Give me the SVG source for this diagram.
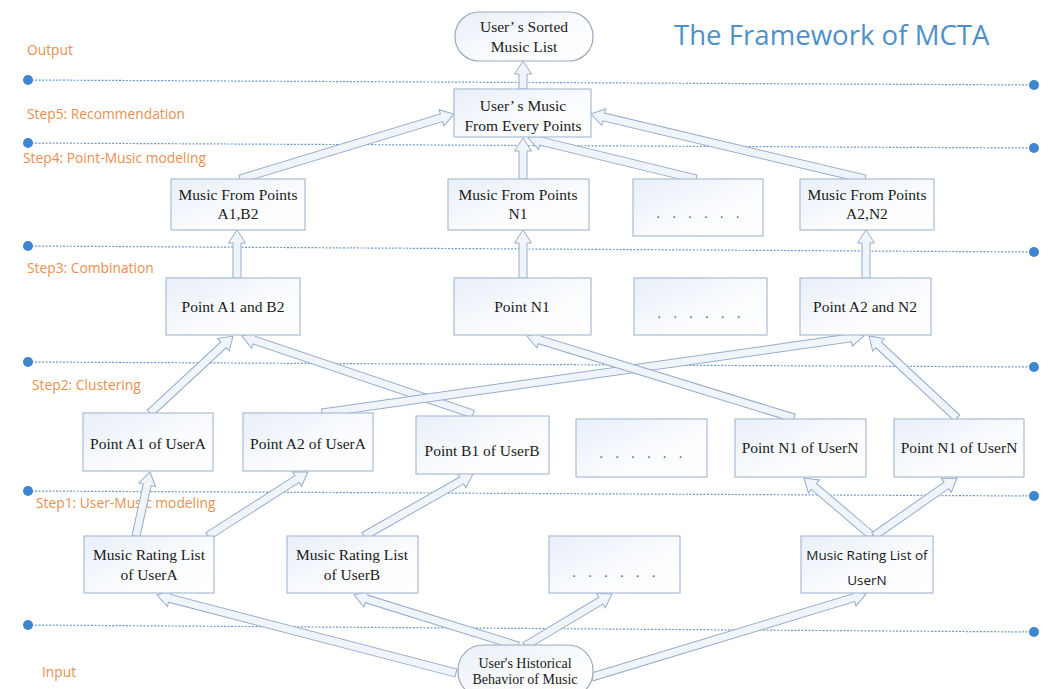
<svg xmlns="http://www.w3.org/2000/svg" width="1057" height="689" viewBox="0 0 1057 689">
<defs>
<linearGradient id="bg" x1="0" y1="0" x2="1" y2="1">
<stop offset="0" stop-color="#e8eff8"/>
<stop offset="0.6" stop-color="#fbfcfe"/>
<stop offset="1" stop-color="#ffffff"/>
</linearGradient>
</defs>
<style>
.sep{stroke:#6f9bcf;stroke-width:1.2;stroke-dasharray:2 1.5;fill:none}
.dot{fill:#3f86d0}
.step{font-family:"Open Sans","Liberation Sans",sans-serif;font-size:13.8px;fill:#e8904f}
.title{font-family:"Open Sans","Liberation Sans",sans-serif;font-size:27.6px;fill:#4f8fca}
.box{fill:url(#bg);stroke:#a9bdd5;stroke-width:1.2}
.stad{fill:url(#bg);stroke:#9aa9bb;stroke-width:1.2}
.t{font-family:"Liberation Serif","Times New Roman",serif;font-size:15.5px;fill:#1a1a1a;text-anchor:middle}
.ts{font-family:"Open Sans","Liberation Sans",sans-serif;font-size:13.5px;fill:#1a1a1a;text-anchor:middle}
.tb{font-family:"Liberation Serif","Times New Roman",serif;font-size:14px;fill:#1a1a1a;text-anchor:middle}
.dots{font-family:"Liberation Serif",serif;font-size:15px;fill:#4b6a8f;text-anchor:middle;letter-spacing:4.2px}
.arr{fill:#f0f5fb;stroke:#97accb;stroke-width:1}
</style>
<rect width="1057" height="689" fill="#ffffff"/>

<g id="separators">
<line class="sep" x1="28" y1="80" x2="1034" y2="85"/>
<line class="sep" x1="28" y1="143" x2="1034" y2="148"/>
<line class="sep" x1="28" y1="246" x2="1034" y2="252"/>
<line class="sep" x1="28" y1="362" x2="1034" y2="367"/>
<line class="sep" x1="28" y1="491" x2="1034" y2="496"/>
<line class="sep" x1="28" y1="625" x2="1034" y2="632"/>
<circle class="dot" cx="28" cy="80" r="5"/><circle class="dot" cx="1034" cy="85" r="5"/>
<circle class="dot" cx="28" cy="143" r="5"/><circle class="dot" cx="1034" cy="148" r="5"/>
<circle class="dot" cx="28" cy="246" r="5"/><circle class="dot" cx="1034" cy="252" r="5"/>
<circle class="dot" cx="28" cy="362" r="5"/><circle class="dot" cx="1034" cy="367" r="5"/>
<circle class="dot" cx="28" cy="491" r="5"/><circle class="dot" cx="1034" cy="496" r="5"/>
<circle class="dot" cx="28" cy="625" r="5"/><circle class="dot" cx="1034" cy="632" r="5"/>
</g>

<g id="labels">
<text class="title" x="674" y="45">The Framework of MCTA</text>
<text class="step" x="27" y="55">Output</text>
<text class="step" x="27" y="119">Step5: Recommendation</text>
<text class="step" x="23" y="163">Step4: Point-Music modeling</text>
<text class="step" x="27" y="273">Step3: Combination</text>
<text class="step" x="32" y="390">Step2: Clustering</text>
<text class="step" x="36" y="508">Step1: User-Music modeling</text>
<text class="step" x="42" y="677">Input</text>
</g>

<g id="connectors">
<path class="arr" d="M0,-4H15V-8.5L28,0L15,8.5V4H0Z" transform="translate(523,89) rotate(-90)"/>
<path class="arr" d="M0,-4H210.6V-8.5L223.6,0L210.6,8.5V4H0Z" transform="translate(240,179) rotate(-16.9)"/>
<path class="arr" d="M0,-4H28V-8.5L41,0L28,8.5V4H0Z" transform="translate(523,179) rotate(-90)"/>
<path class="arr" d="M0,-4H159.9V-8.5L172.9,0L159.9,8.5V4H0Z" transform="translate(696,179) rotate(-166.29)"/>
<path class="arr" d="M0,-4H268.6V-8.5L281.6,0L268.6,8.5V4H0Z" transform="translate(865,179) rotate(-166.65)"/>
<path class="arr" d="M0,-4H35V-8.5L48,0L35,8.5V4H0Z" transform="translate(237,278) rotate(-90)"/>
<path class="arr" d="M0,-4H35V-8.5L48,0L35,8.5V4H0Z" transform="translate(523,278) rotate(-90)"/>
<path class="arr" d="M0,-4H35V-8.5L48,0L35,8.5V4H0Z" transform="translate(866,278) rotate(-90)"/>
<path class="arr" d="M0,-4H100.2V-8.5L113.2,0L100.2,8.5V4H0Z" transform="translate(150,413) rotate(-42.85)"/>
<path class="arr" d="M0,-4H230.8V-8.5L243.8,0L230.8,8.5V4H0Z" transform="translate(473,414) rotate(-161.34)"/>
<path class="arr" d="M0,-4H534.4V-8.5L547.4,0L534.4,8.5V4H0Z" transform="translate(322,413) rotate(-8.09)"/>
<path class="arr" d="M0,-4H266.3V-8.5L279.3,0L266.3,8.5V4H0Z" transform="translate(794,418) rotate(-162.93)"/>
<path class="arr" d="M0,-4H107.3V-8.5L120.3,0L107.3,8.5V4H0Z" transform="translate(957,418) rotate(-137.02)"/>
<path class="arr" d="M0,-4H52.5V-8.5L65.5,0L52.5,8.5V4H0Z" transform="translate(136,536) rotate(-77.66)"/>
<path class="arr" d="M0,-4H105.7V-8.5L118.7,0L105.7,8.5V4H0Z" transform="translate(208,536) rotate(-32.62)"/>
<path class="arr" d="M0,-4H112.4V-8.5L125.4,0L112.4,8.5V4H0Z" transform="translate(364,536) rotate(-29.63)"/>
<path class="arr" d="M0,-4H76.4V-8.5L89.4,0L76.4,8.5V4H0Z" transform="translate(872,536) rotate(-139.54)"/>
<path class="arr" d="M0,-4H88.3V-8.5L101.3,0L88.3,8.5V4H0Z" transform="translate(874,536) rotate(-34.94)"/>
<path class="arr" d="M0,-4H296V-8.5L309,0L296,8.5V4H0Z" transform="translate(456,673) rotate(-165.38)"/>
<path class="arr" d="M0,-4H158.7V-8.5L171.7,0L158.7,8.5V4H0Z" transform="translate(518,646) rotate(-162.73)"/>
<path class="arr" d="M0,-4H88.4V-8.5L101.4,0L88.4,8.5V4H0Z" transform="translate(525,646) rotate(-30.87)"/>
<path class="arr" d="M0,-4H273.3V-8.5L286.3,0L273.3,8.5V4H0Z" transform="translate(592,677) rotate(-16.85)"/>
</g>

<g id="n-sorted"><rect class="stad" x="455" y="12" width="138" height="49" rx="24"/>
<text class="t" x="524" y="32">User’ s Sorted</text><text class="t" x="524" y="52">Music List</text></g>
<g id="n-every"><rect class="box" x="454" y="89" width="137" height="48"/>
<text class="t" x="523" y="111">User’ s Music</text><text class="t" x="523" y="131">From Every Points</text></g>

<g id="n-mfp-a1b2"><rect class="box" x="171" y="179" width="134" height="51"/>
<text class="t" x="238" y="200">Music From Points</text><text class="t" x="238" y="219">A1,B2</text></g>
<g id="n-mfp-n1"><rect class="box" x="448" y="179" width="141" height="51"/>
<text class="t" x="518" y="200">Music From Points</text><text class="t" x="518" y="219">N1</text></g>
<g id="n-mfp-dots"><rect class="box" x="633" y="179" width="130" height="57"/>
<text class="dots" x="700" y="218">. . . . . .</text></g>
<g id="n-mfp-a2n2"><rect class="box" x="800" y="179" width="134" height="51"/>
<text class="t" x="867" y="200">Music From Points</text><text class="t" x="867" y="219">A2,N2</text></g>

<g id="n-pa1b2"><rect class="box" x="166" y="278" width="134" height="57"/>
<text class="t" x="233" y="312">Point A1 and B2</text></g>
<g id="n-pn1"><rect class="box" x="454" y="278" width="137" height="57"/>
<text class="t" x="522" y="312">Point N1</text></g>
<g id="n-p-dots"><rect class="box" x="634" y="278" width="133" height="57"/>
<text class="dots" x="701" y="318">. . . . . .</text></g>
<g id="n-pa2n2"><rect class="box" x="800" y="278" width="131" height="57"/>
<text class="t" x="865" y="312">Point A2 and N2</text></g>

<g id="n-a1"><rect class="box" x="83" y="413" width="130" height="58"/>
<text class="t" x="148" y="449">Point A1 of UserA</text></g>
<g id="n-a2"><rect class="box" x="243" y="413" width="130" height="58"/>
<text class="t" x="308" y="449">Point A2 of UserA</text></g>
<g id="n-b1"><rect class="box" x="416" y="416" width="133" height="58"/>
<text class="t" x="482" y="456">Point B1 of UserB</text></g>
<g id="n-c-dots"><rect class="box" x="576" y="419" width="131" height="58"/>
<text class="dots" x="643" y="458">. . . . . .</text></g>
<g id="n-n1a"><rect class="box" x="735" y="419" width="131" height="58"/>
<text class="t" x="800" y="453">Point N1 of UserN</text></g>
<g id="n-n1b"><rect class="box" x="894" y="419" width="130" height="58"/>
<text class="t" x="959" y="453">Point N1 of UserN</text></g>

<g id="n-ma"><rect class="box" x="84" y="536" width="130" height="57"/>
<text class="t" x="149" y="560">Music Rating List</text><text class="t" x="149" y="580">of UserA</text></g>
<g id="n-mb"><rect class="box" x="287" y="536" width="131" height="57"/>
<text class="t" x="352" y="560">Music Rating List</text><text class="t" x="352" y="580">of UserB</text></g>
<g id="n-m-dots"><rect class="box" x="549" y="536" width="131" height="57"/>
<text class="dots" x="616" y="577">. . . . . .</text></g>
<g id="n-mn"><rect class="box" x="801" y="536" width="132" height="57"/>
<text class="ts" x="867" y="560">Music Rating List of</text><text class="ts" x="867" y="585">UserN</text></g>

<g id="n-hist"><rect class="stad" x="458" y="645" width="135" height="52" rx="25"/>
<text class="tb" x="525" y="668">User's Historical</text><text class="tb" x="525" y="684">Behavior of Music</text></g>
</svg>
